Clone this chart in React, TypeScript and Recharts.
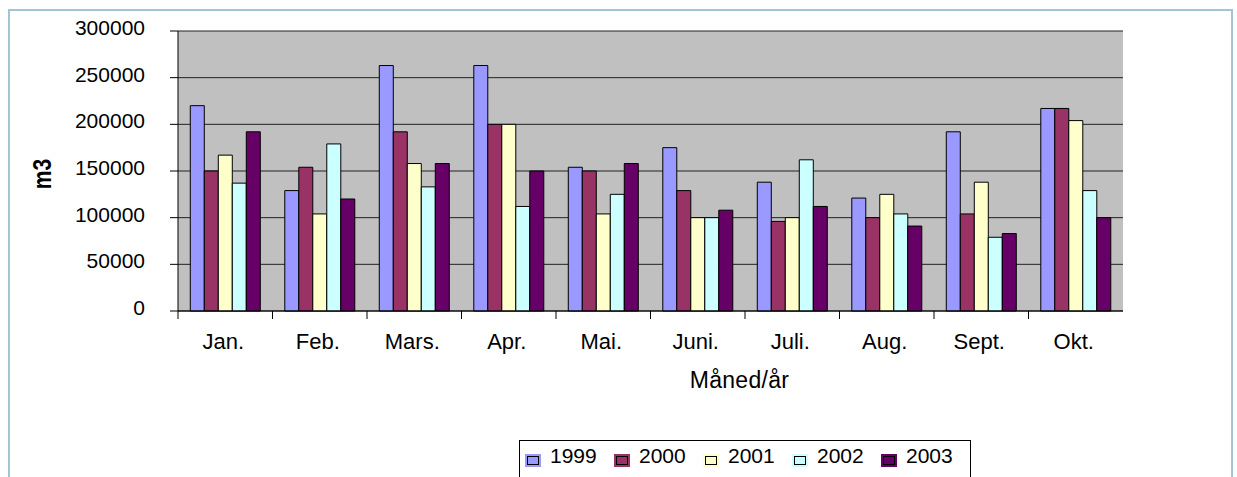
import React from 'react';
import { BarChart, Bar, XAxis, YAxis, CartesianGrid } from 'recharts';

const categories = ['Jan.', 'Feb.', 'Mars.', 'Apr.', 'Mai.', 'Juni.', 'Juli.', 'Aug.', 'Sept.', 'Okt.'];
const s1999 = [220000, 129000, 263000, 263000, 154000, 175000, 138000, 121000, 192000, 217000];
const s2000 = [150000, 154000, 192000, 200000, 150000, 129000, 96000, 100000, 104000, 217000];
const s2001 = [167000, 104000, 158000, 200000, 104000, 100000, 100000, 125000, 138000, 204000];
const s2002 = [137000, 179000, 133000, 112000, 125000, 100000, 162000, 104000, 79000, 129000];
const s2003 = [192000, 120000, 158000, 150000, 158000, 108000, 112000, 91000, 83000, 100000];
const seriesNames = ['1999', '2000', '2001', '2002', '2003'];
const seriesColors = ['#9999FF', '#993366', '#FFFFCC', '#CCFFFF', '#660066'];
const yTicks = [0, 50000, 100000, 150000, 200000, 250000, 300000];
const xTitle = 'Måned/år';
const yTitle = 'm3';

const seriesValues = [s1999, s2000, s2001, s2002, s2003];
const data = categories.map((c, i) => {
  const row: Record<string, string | number> = { month: c };
  seriesNames.forEach((n, k) => {
    row[n] = seriesValues[k][i];
  });
  return row;
});

const FONT = "Arial, 'Liberation Sans', sans-serif";

const XTick = (props: any) => {
  const { x, y, payload } = props;
  const off = payload && typeof payload.offset === 'number' ? payload.offset : 0;
  return (
    <g>
      <line x1={x - off} x2={x - off} y1={y} y2={y + 8} stroke="#000" strokeWidth={1} />
      <text x={x - 2} y={y + 38} textAnchor="middle" fontFamily={FONT} fontSize={22} fill="#000">
        {payload.value}
      </text>
    </g>
  );
};

const YTick = (props: any) => {
  const { x, y, payload } = props;
  return (
    <text x={x} y={y + 4} textAnchor="end" fontFamily={FONT} fontSize={21} fill="#000">
      {payload.value}
    </text>
  );
};

const XTitle = (props: any) => {
  const vb = props.viewBox || { x: 0, y: 0, width: 0, height: 0 };
  return (
    <text
      x={vb.x + vb.width / 2 + 89}
      y={vb.y + 77}
      textAnchor="middle"
      fontFamily={FONT}
      fontSize={23}
      letterSpacing={0.3}
      fill="#000"
    >
      {xTitle}
    </text>
  );
};

const YTitle = (props: any) => {
  const vb = props.viewBox || { x: 0, y: 0, width: 0, height: 0 };
  const cx = vb.x + 42;
  const cy = vb.y + vb.height / 2 + 3;
  return (
    <g transform={`translate(${cx} ${cy}) rotate(-90) scale(1 1.25)`}>
      <text
        x={0}
        y={0}
        textAnchor="middle"
        dominantBaseline="central"
        fontFamily={FONT}
        fontSize={21}
        fontWeight="bold"
        fill="#000"
      >
        {yTitle}
      </text>
    </g>
  );
};

export default function App() {
  return (
    <div
      style={{
        position: 'fixed',
        left: 0,
        top: 0,
        width: 1237,
        height: 477,
        overflow: 'hidden',
        background: '#fff',
        fontFamily: FONT,
      }}
    >
      <div
        style={{
          position: 'absolute',
          left: 8,
          top: 9,
          width: 1221,
          height: 520,
          border: '2px solid #A2C4D4',
        }}
      />
      <div style={{ position: 'absolute', left: 0, top: 0 }}>
        <BarChart
          width={1237}
          height={477}
          data={data}
          margin={{ top: 31, right: 114, bottom: 126, left: 0 }}
          barCategoryGap="13%"
          barGap={0}
        >
          <CartesianGrid vertical={false} fill="#C0C0C0" stroke="#222" strokeOpacity={1} />
          <XAxis
            dataKey="month"
            height={40}
            interval={0}
            tickLine={false}
            tickSize={0}
            tickMargin={0}
            axisLine={{ stroke: '#000' }}
            tick={<XTick />}
            label={<XTitle />}
          />
          <YAxis
            width={178}
            domain={[0, 300000]}
            ticks={yTicks}
            interval={0}
            tickSize={8}
            tickMargin={25}
            tickLine={{ stroke: '#000' }}
            axisLine={{ stroke: '#000' }}
            tick={<YTick />}
            label={<YTitle />}
          />
          {seriesNames.map((n, k) => (
            <Bar
              key={n}
              dataKey={n}
              fill={seriesColors[k]}
              stroke="#000"
              strokeWidth={1}
              isAnimationActive={false}
            />
          ))}
        </BarChart>
      </div>
      <div
        style={{
          position: 'absolute',
          left: 519,
          top: 440,
          width: 452,
          height: 60,
          border: '1px solid #000',
          background: '#fff',
          boxSizing: 'border-box',
        }}
      >
        <div style={{ display: 'flex', alignItems: 'center', paddingLeft: 5, paddingTop: 3 }}>
          {seriesNames.map((n, k) => (
            <div key={n} style={{ display: 'flex', alignItems: 'center', width: 90 }}>
              <span
                style={{
                  display: 'inline-block',
                  padding: 2,
                  background: seriesColors[k],
                  marginTop: 8,
                }}
              >
                <span
                  style={{
                    display: 'block',
                    width: 10,
                    height: 7,
                    border: '1px solid #000',
                    background: seriesColors[k],
                  }}
                />
              </span>
              <span style={{ marginLeft: 9, fontSize: 21, color: '#000', lineHeight: '24px' }}>{n}</span>
            </div>
          ))}
        </div>
      </div>
    </div>
  );
}
